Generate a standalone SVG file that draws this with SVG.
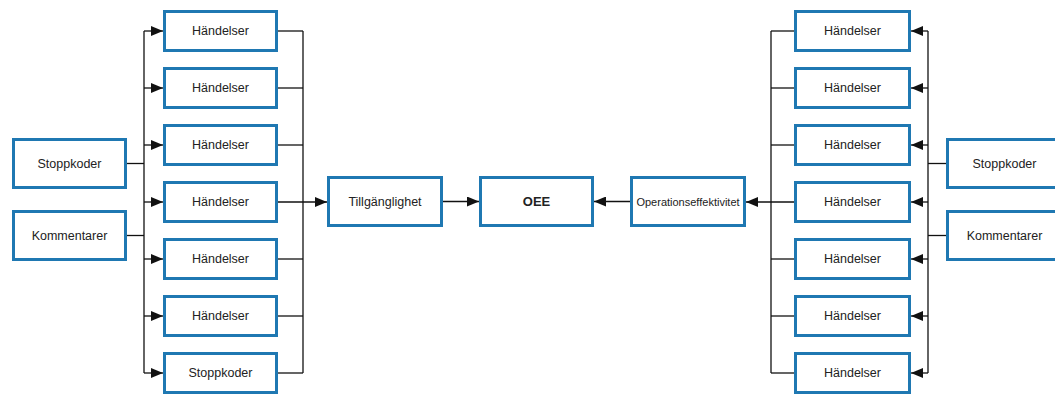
<svg xmlns="http://www.w3.org/2000/svg" width="1055" height="396" viewBox="0 0 1055 396">
  <defs>
    <marker id="arrow" markerUnits="userSpaceOnUse" markerWidth="12" markerHeight="10" refX="12" refY="5" orient="auto">
      <path d="M0,0 L12,5 L0,10 z" fill="#111"/>
    </marker>
    <style>
      .box { fill: #fff; stroke: #1f78b2; stroke-width: 3; }
      .lbl { font-family: "Liberation Sans", Arial, sans-serif; font-size: 12.5px; fill: #222; text-anchor: middle; dominant-baseline: central; }
      .bold { font-weight: bold; font-size: 13px; }
      .small { font-size: 11px; }
      .ln { fill: none; stroke: #111; stroke-width: 1.3; }
      .ar { fill: none; stroke: #111; stroke-width: 1.3; marker-end: url(#arrow); }
    </style>
  </defs>

  <rect width="1055" height="396" fill="#fff"/>

  <!-- connectors -->
  <g id="connectors">
    <!-- left fan-out -->
    <path class="ln" d="M144,31 V373"/>
    <path class="ln" d="M127,163.5 H144"/>
    <path class="ln" d="M127,235.5 H144"/>
    <path class="ar" d="M144,31 H163"/>
    <path class="ar" d="M144,88 H163"/>
    <path class="ar" d="M144,145 H163"/>
    <path class="ar" d="M144,202 H163"/>
    <path class="ar" d="M144,259 H163"/>
    <path class="ar" d="M144,316 H163"/>
    <path class="ar" d="M144,373 H163"/>
    <!-- left collector -->
    <path class="ln" d="M303,31 V373"/>
    <path class="ln" d="M278,31 H303"/>
    <path class="ln" d="M278,88 H303"/>
    <path class="ln" d="M278,145 H303"/>
    <path class="ln" d="M278,259 H303"/>
    <path class="ln" d="M278,316 H303"/>
    <path class="ln" d="M278,373 H303"/>
    <path class="ar" d="M278,202 H327"/>
    <!-- centre -->
    <path class="ar" d="M443,201.5 H479"/>
    <path class="ar" d="M630,201.5 H594"/>
    <!-- right collector -->
    <path class="ln" d="M771,31 V373"/>
    <path class="ln" d="M794,31 H771"/>
    <path class="ln" d="M794,88 H771"/>
    <path class="ln" d="M794,145 H771"/>
    <path class="ln" d="M794,259 H771"/>
    <path class="ln" d="M794,316 H771"/>
    <path class="ln" d="M794,373 H771"/>
    <path class="ar" d="M794,202 H746"/>
    <!-- right fan-out -->
    <path class="ln" d="M928,31 V373"/>
    <path class="ln" d="M946,163.5 H928"/>
    <path class="ln" d="M946,235.5 H928"/>
    <path class="ar" d="M928,31 H911"/>
    <path class="ar" d="M928,88 H911"/>
    <path class="ar" d="M928,145 H911"/>
    <path class="ar" d="M928,202 H911"/>
    <path class="ar" d="M928,259 H911"/>
    <path class="ar" d="M928,316 H911"/>
    <path class="ar" d="M928,373 H911"/>
  </g>

  <!-- left sources -->
  <g id="l-stoppkoder"><rect class="box" x="13.5" y="139.5" width="112" height="48"/><text class="lbl" x="69.5" y="163.5">Stoppkoder</text></g>
  <g id="l-kommentarer"><rect class="box" x="13.5" y="211.5" width="112" height="48"/><text class="lbl" x="69.5" y="235.5">Kommentarer</text></g>

  <!-- left column -->
  <g id="l-h1"><rect class="box" x="164.5" y="11.5" width="112" height="39"/><text class="lbl" x="220.5" y="31">Händelser</text></g>
  <g id="l-h2"><rect class="box" x="164.5" y="68.5" width="112" height="39"/><text class="lbl" x="220.5" y="88">Händelser</text></g>
  <g id="l-h3"><rect class="box" x="164.5" y="125.5" width="112" height="39"/><text class="lbl" x="220.5" y="145">Händelser</text></g>
  <g id="l-h4"><rect class="box" x="164.5" y="182.5" width="112" height="39"/><text class="lbl" x="220.5" y="202">Händelser</text></g>
  <g id="l-h5"><rect class="box" x="164.5" y="239.5" width="112" height="39"/><text class="lbl" x="220.5" y="259">Händelser</text></g>
  <g id="l-h6"><rect class="box" x="164.5" y="296.5" width="112" height="39"/><text class="lbl" x="220.5" y="316">Händelser</text></g>
  <g id="l-h7"><rect class="box" x="164.5" y="353.5" width="112" height="39"/><text class="lbl" x="220.5" y="373">Stoppkoder</text></g>

  <!-- centre -->
  <g id="tillganglighet"><rect class="box" x="328.5" y="177.5" width="113" height="48"/><text class="lbl" x="385" y="201.5">Tillgänglighet</text></g>
  <g id="oee"><rect class="box" x="480.5" y="177.5" width="112" height="48"/><text class="lbl bold" x="536.5" y="201.5">OEE</text></g>
  <g id="operationseffektivitet"><rect class="box" x="631.5" y="177.5" width="113" height="48"/><text class="lbl small" x="688" y="201.5">Operationseffektivitet</text></g>

  <!-- right column -->
  <g id="r-h1"><rect class="box" x="795.5" y="11.5" width="114" height="39"/><text class="lbl" x="852.5" y="31">Händelser</text></g>
  <g id="r-h2"><rect class="box" x="795.5" y="68.5" width="114" height="39"/><text class="lbl" x="852.5" y="88">Händelser</text></g>
  <g id="r-h3"><rect class="box" x="795.5" y="125.5" width="114" height="39"/><text class="lbl" x="852.5" y="145">Händelser</text></g>
  <g id="r-h4"><rect class="box" x="795.5" y="182.5" width="114" height="39"/><text class="lbl" x="852.5" y="202">Händelser</text></g>
  <g id="r-h5"><rect class="box" x="795.5" y="239.5" width="114" height="39"/><text class="lbl" x="852.5" y="259">Händelser</text></g>
  <g id="r-h6"><rect class="box" x="795.5" y="296.5" width="114" height="39"/><text class="lbl" x="852.5" y="316">Händelser</text></g>
  <g id="r-h7"><rect class="box" x="795.5" y="353.5" width="114" height="39"/><text class="lbl" x="852.5" y="373">Händelser</text></g>

  <!-- right sources -->
  <g id="r-stoppkoder"><rect class="box" x="947.5" y="139.5" width="114" height="48"/><text class="lbl" x="1004.5" y="163.5">Stoppkoder</text></g>
  <g id="r-kommentarer"><rect class="box" x="947.5" y="211.5" width="114" height="48"/><text class="lbl" x="1004.5" y="235.5">Kommentarer</text></g>
</svg>
